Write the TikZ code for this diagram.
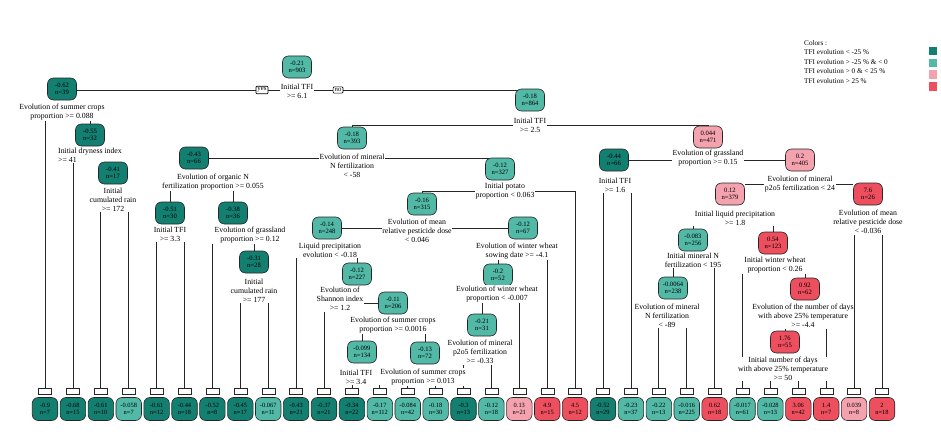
\documentclass[tikz,border=0pt]{standalone}
\usepackage{fontspec}
\setmainfont{Liberation Serif}
\usepackage{tikz}
\usetikzlibrary{backgrounds}
\definecolor{tfidark}{HTML}{137F70}
\definecolor{tfilight}{HTML}{52B9A6}
\definecolor{tfipink}{HTML}{F3A2AE}
\definecolor{tfired}{HTML}{EE4F5E}
\tikzset{
  tnode/.style={draw=black!85,line width=0.6pt,rounded corners=6pt,minimum width=29pt,minimum height=22pt,
    inner sep=0pt,align=center,font=\fontsize{6.6}{7.4}\selectfont},
  leafnode/.style={tnode,minimum width=25.5pt,minimum height=23pt,font=\fontsize{6.4}{7.4}\selectfont},
  splitlab/.style={fill=white,inner sep=0.6pt,align=center,font=\fontsize{7.8}{8.9}\selectfont},
  numbox/.style={draw=black!85,fill=white,minimum width=13pt,minimum height=6.5pt,inner sep=0pt},
  ynbox/.style={draw=black,line width=0.7pt,fill=white,inner sep=1.5pt,rounded corners=1pt,font=\fontsize{6.8}{7}\selectfont},
  branch/.style={draw=black!85,line width=0.8pt},
  legtext/.style={anchor=west,inner sep=0pt,font=\fontsize{7.2}{7.6}\selectfont},
}

\begin{document}
\begin{tikzpicture}[x=1pt,y=-1pt]
  \useasboundingbox (0,0) rectangle (941,444);

  % legend
  \node[legtext] (ctitle) at (804,43) {Colors :};
  \foreach \k/\t/\c in {1/{TFI evolution < -25 \%}/tfidark,
                        2/{TFI evolution > -25 \% \& < 0}/tfilight,
                        3/{TFI evolution > 0 \& < 25 \%}/tfipink,
                        4/{TFI evolution > 25 \%}/tfired} {
    \node[legtext] (lg\k) at (804,{43+9.4*\k}) {\t};
    \node[fill=\c,minimum width=8pt,minimum height=8.5pt,inner sep=0pt] (sq\k) at (933,{39.5+11.7*\k}) {};
  }

  % root and first split
  \node[tnode,fill=tfilight] (n1) at (297,67) {-0.21\\n=903};
  \node[splitlab] (s1) at (297,91) {Initial TFI\\>= 6.1};
  \node[ynbox] (yes) at (262,90) {yes};
  \node[ynbox] (no) at (338,90) {no};

  % yes side
  \node[tnode,fill=tfidark] (n2) at (62,89) {-0.62\\n=39};
  \node[splitlab] (s2) at (62,112) {Evolution of summer crops\\proportion >= 0.088};
  \node[tnode,fill=tfidark] (n3) at (90,135) {-0.55\\n=32};
  \node[splitlab,align=left] (s3) at (90,155) {Initial dryness index\\>= 41};
  \node[tnode,fill=tfidark] (n4) at (113,173) {-0.41\\n=17};
  \node[splitlab] (s4) at (113,200) {Initial\\cumulated rain\\>= 172};

  % no side
  \node[tnode,fill=tfilight] (n5) at (530,100) {-0.18\\n=864};
  \node[splitlab] (s5) at (530,125) {Initial TFI\\>= 2.5};
  \node[tnode,fill=tfilight] (n6) at (352,138) {-0.18\\n=393};
  \node[splitlab] (s6) at (352,166) {Evolution of mineral\\N fertilization\\< -58};
  \node[tnode,fill=tfidark] (n7) at (194,158) {-0.43\\n=66};
  \node[splitlab] (s7) at (213,182) {Evolution of organic N\\fertilization proportion >= 0.055};
  \node[tnode,fill=tfidark] (n9) at (170,213) {-0.51\\n=30};
  \node[splitlab] (s9) at (170,234) {Initial TFI\\>= 3.3};
  \node[tnode,fill=tfidark] (n10) at (233,213) {-0.38\\n=36};
  \node[splitlab] (s10) at (250,235) {Evolution of grassland\\proportion >= 0.12};
  \node[tnode,fill=tfidark] (n11) at (254,262) {-0.31\\n=28};
  \node[splitlab] (s11) at (254,291) {Initial\\cumulated rain\\>= 177};

  \node[tnode,fill=tfilight] (n8) at (500,169) {-0.12\\n=327};
  \node[splitlab] (s8) at (505,191) {Initial potato\\proportion < 0.063};
  \node[tnode,fill=tfilight] (n12) at (422,204) {-0.16\\n=315};
  \node[splitlab] (s12) at (417,231) {Evolution of mean\\relative pesticide dose\\< 0.046};
  \node[tnode,fill=tfilight] (n13) at (327,228) {-0.14\\n=248};
  \node[splitlab] (s13) at (330,250) {Liquid precipitation\\evolution < -0.18};
  \node[tnode,fill=tfilight] (n15) at (357,274) {-0.12\\n=227};
  \node[splitlab] (s15) at (340,299) {Evolution of\\Shannon index\\>= 1.2};
  \node[tnode,fill=tfilight] (n16) at (393,303) {-0.11\\n=206};
  \node[splitlab] (s16) at (393,325) {Evolution of summer crops\\proportion >= 0.0016};
  \node[tnode,fill=tfilight] (n17) at (362,352) {-0.099\\n=134};
  \node[splitlab] (s17) at (356,377) {Initial TFI\\>= 3.4};
  \node[tnode,fill=tfilight] (n18) at (425,353) {-0.13\\n=72};
  \node[splitlab] (s18) at (423,377) {Evolution of summer crops\\proportion >= 0.013};
  \node[tnode,fill=tfilight] (n14) at (523,228) {-0.12\\n=67};
  \node[splitlab] (s14) at (517,251) {Evolution of winter wheat\\sowing date >= -4.1};
  \node[tnode,fill=tfilight] (n19) at (498,275) {-0.2\\n=52};
  \node[splitlab] (s19) at (497,294) {Evolution of winter wheat\\proportion < -0.007};
  \node[tnode,fill=tfilight] (n20) at (482,325) {-0.21\\n=31};
  \node[splitlab] (s20) at (480,352) {Evolution of mineral\\p2o5 fertilization\\>= -0.33};

  \node[tnode,fill=tfipink] (nr) at (708,137) {0.044\\n=471};
  \node[splitlab] (sr) at (708,158) {Evolution of grassland\\proportion >= 0.15};
  \node[tnode,fill=tfidark] (n21) at (614,160) {-0.44\\n=66};
  \node[splitlab] (s21) at (615,185) {Initial TFI\\>= 1.6};
  \node[tnode,fill=tfipink] (n22) at (800,160) {0.2\\n=405};
  \node[splitlab] (s22) at (800,184) {Evolution of mineral\\p2o5 fertilization < 24};
  \node[tnode,fill=tfipink] (n23) at (730,194) {0.12\\n=379};
  \node[splitlab] (s23) at (735,218) {Initial liquid precipitation\\>= 1.8};
  \node[tnode,fill=tfired] (n24) at (868,194) {7.6\\n=26};
  \node[splitlab] (s24) at (868,222) {Evolution of mean\\relative pesticide dose\\< -0.036};
  \node[tnode,fill=tfilight] (n25) at (693,240) {-0.083\\n=256};
  \node[splitlab] (s25) at (693,260) {Initial mineral N\\fertilization < 195};
  \node[tnode,fill=tfired] (n26) at (773,243) {0.54\\n=123};
  \node[splitlab] (s26) at (775,265) {Initial winter wheat\\proportion < 0.26};
  \node[tnode,fill=tfilight] (n27) at (673,288) {-0.0064\\n=238};
  \node[splitlab] (s27) at (667,316) {Evolution of mineral\\N fertilization\\< -89};
  \node[tnode,fill=tfired] (n28) at (805,289) {0.92\\n=62};
  \node[splitlab] (s28) at (803,316) {Evolution of the number of days\\with above 25\% temperature\\>= -4.4};
  \node[tnode,fill=tfired] (n29) at (785,342) {1.76\\n=55};
  \node[splitlab] (s29) at (783,369) {Initial number of days\\with above 25\% temperature\\>= 50};

  % leaves
  \foreach \i/\v/\nn/\c in {1/-0.9/7/tfidark, 2/-0.68/15/tfidark, 3/-0.61/10/tfidark,
      4/-0.058/7/tfilight, 5/-0.61/12/tfidark, 6/-0.44/18/tfidark, 7/-0.52/8/tfidark,
      8/-0.45/17/tfidark, 9/-0.067/11/tfilight, 10/-0.43/21/tfidark, 11/-0.37/21/tfidark,
      12/-0.34/22/tfidark, 13/-0.17/112/tfilight, 14/-0.084/42/tfilight, 15/-0.18/30/tfilight,
      16/-0.3/13/tfidark, 17/-0.12/18/tfilight, 18/0.13/21/tfipink, 19/4.9/15/tfired,
      20/4.5/12/tfired, 21/-0.52/29/tfidark, 22/-0.23/37/tfilight, 23/-0.22/13/tfilight,
      24/-0.016/225/tfilight, 25/0.62/18/tfired, 26/-0.017/61/tfilight, 27/-0.028/13/tfilight,
      28/3.06/42/tfired, 29/1.4/7/tfired, 30/0.039/8/tfipink, 31/2/18/tfired} {
    \node[leafnode,fill=\c] (l\i) at ({45+27.9*(\i-1)},409) {\v\\n=\nn};
    \node[numbox] (b\i) at ({45+27.9*(\i-1)},391) {};
  }

  \begin{scope}[on background layer]
    \draw[branch] (yes.east) -- (yes.east -| s1.west);
    \draw[branch] (yes.west) -- (yes.west -| n2.east);
    \draw[branch] (no.west) -- (no.west -| s1.east);
    \draw[branch] (no.east) -| (n5.north);
    \draw[branch] (s2.south -| n3) -- (n3.north);
    \draw[branch] (s3.south -| n4) -- (n4.north);
    \draw[branch] (s5.west) -| (n6.north);
    \draw[branch] (s5.east) -| (nr.north);
    \draw[branch] (n7.east) -- (n7.east -| s6.west);
    \draw[branch] (n7.east -| s6.east) -| (n8.north);
    \draw[branch] (s7.south -| n9) -- (n9.north);
    \draw[branch] (s7.south -| n10) -- (n10.north);
    \draw[branch] (s10.south -| n11) -- (n11.north);
    \draw[branch] (s8.west) -| (n12.north);
    \draw[branch] (s8.east) -| (b20.north);
    \draw[branch] (n13.east) -- (n13.east -| s12.west);
    \draw[branch] (n14.west) -- (n14.west -| s12.east);
    \draw[branch] (s13.south -| n15) -- (n15.north);
    \draw[branch] (n16.west) -- (n16.west -| s15.east);
    \draw[branch] (s16.south -| n17) -- (n17.north);
    \draw[branch] (s16.south -| n18) -- (n18.north);
    \draw[branch] (s14.south -| n19) -- (n19.north);
    \draw[branch] (s19.south -| n20) -- (n20.north);
    \draw[branch] (n21.east) -- (n21.east -| sr.west);
    \draw[branch] (n22.west) -- (n22.west -| sr.east);
    \draw[branch] (s22.west) -- (s22.west -| n23.east);
    \draw[branch] (s22.east) -- (s22.east -| n24.west);
    \draw[branch] (s23.south -| n25) -- (n25.north);
    \draw[branch] (s23.south -| n26) -- (n26.north);
    \draw[branch] (s25.south -| n27) -- (n27.north);
    \draw[branch] (s26.south -| n28) -- (n28.north);
    \draw[branch] (s28.south -| n29) -- (n29.north);
    % down to the leaves
    \foreach \s/\k in {s2/1, s3/2, s4/3, s4/4, s9/5, s9/6, s10/7, s11/8, s11/9,
        s13/10, s15/11, s17/12, s17/13, s18/14, s18/15, s20/16, s20/17, s19/18,
        s14/19, s21/21, s21/22, s27/23, s27/24, s25/25, s26/26, s29/27, s29/28,
        s28/29, s24/30, s24/31}
      \draw[branch] (\s.south -| b\k) -- (b\k.north);
  \end{scope}
\end{tikzpicture}
\end{document}
